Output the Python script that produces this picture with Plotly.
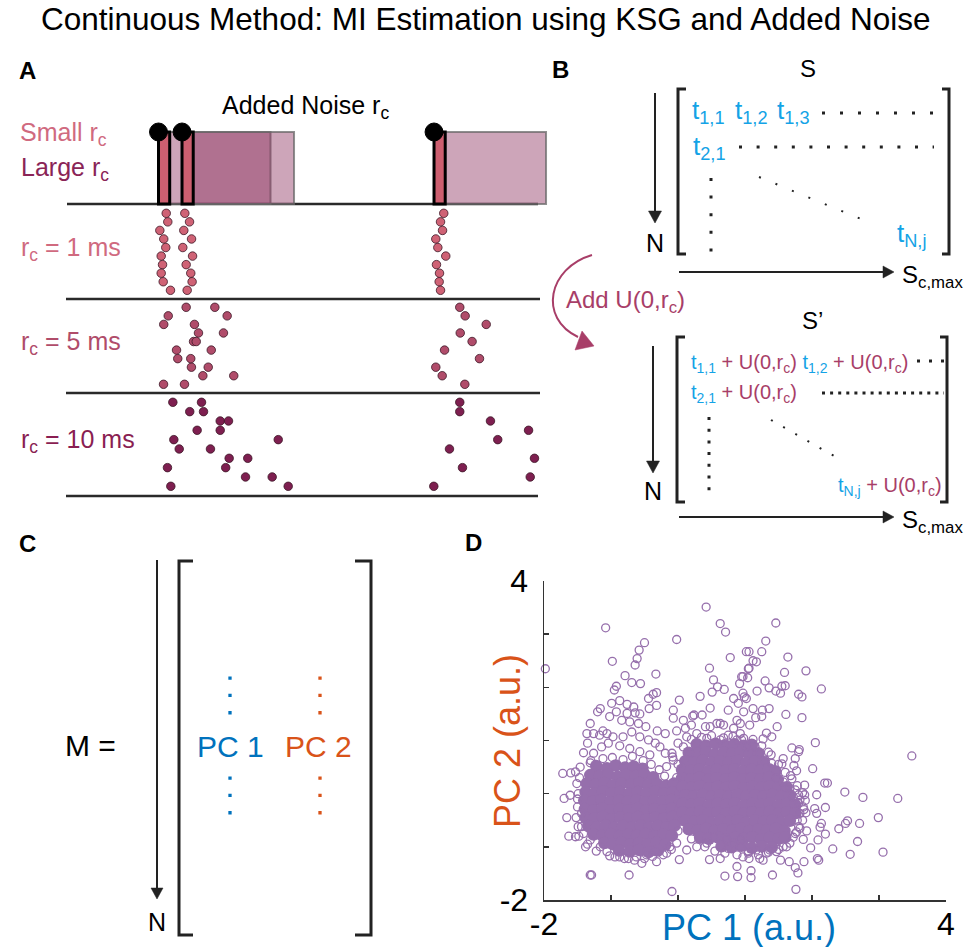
import plotly.graph_objects as go

W, H = 972, 947
FONT = "Liberation Sans, Arial, sans-serif"

# ------------------------------------------------------------------ data
title_text = "Continuous Method: MI Estimation using KSG and Added Noise"

spike_times_ms = [0.0, 2.1, 24.6]
noise_window_ms = 10.0
row_labels = ["r<sub>c</sub> = 1 ms", "r<sub>c</sub> = 5 ms", "r<sub>c</sub> = 10 ms"]
trials = [1, 2, 3, 4, 5, 6, 7, 8, 9, 10]

rc1_spike1 = [0.69, 0.83, 0.12, 0.47, 0.65, 0.24, 0.36, 0.24, 0.42, 1.07]
rc1_spike2 = [2.35, 2.77, 2.26, 2.95, 2.17, 3.04, 2.47, 2.88, 3.00, 2.56]
rc1_spike3 = [25.47, 25.18, 25.36, 24.76, 24.94, 25.65, 24.82, 25.09, 25.06, 25.18]

rc5_spike1 = [2.47, 0.87, 0.47, 3.57, 3.13, 1.61, 1.72, 2.94, 3.96, 0.45]
rc5_spike2 = [5.03, 6.13, 3.21, 5.80, 3.37, 4.71, 2.88, 4.44, 6.72, 2.32]
rc5_spike3 = [26.90, 27.38, 29.26, 26.94, 28.00, 25.54, 28.66, 24.76, 25.33, 27.35]

rc10_spike1 = [1.28, 2.79, 5.51, 3.45, 1.37, 1.85, 6.31, 0.80, 7.77, 1.10]
rc10_spike2 = [3.84, 4.02, 6.25, 5.51, 10.69, 4.64, 7.97, 6.00, 10.15, 11.58]
rc10_spike3 = [26.90, 26.90, 29.64, 33.04, 30.29, 25.98, 33.57, 27.14, 33.19, 24.58]

pc_ticks = [-2, -1, 0, 1, 2, 3, 4]
pc_label_ticks = [-2, 4]
pc_ticktext = ["-2", "4"]

pc_dense = [
    (-1.22, 0.52), (-1.06, 0.48), (-0.93, 0.53), (-0.79, 0.49), (-0.66, 0.51), (-0.53, 0.47),
    (-1.31, 0.35), (-1.17, 0.33), (-1.04, 0.36), (-0.90, 0.32), (-0.77, 0.35), (-0.63, 0.33), (-0.50, 0.36), (-0.37, 0.31),
    (-1.36, 0.19), (-1.23, 0.17), (-1.10, 0.20), (-0.97, 0.16), (-0.84, 0.19), (-0.70, 0.17), (-0.57, 0.20), (-0.44, 0.16),
    (-0.31, 0.18), (-0.18, 0.15), (-0.06, 0.19),
    (-1.38, 0.03), (-1.25, 0.00), (-1.12, 0.04), (-0.99, 0.01), (-0.86, 0.03), (-0.73, 0.00), (-0.60, 0.03), (-0.47, 0.01),
    (-0.34, 0.04), (-0.21, 0.00), (-0.08, 0.02), (0.04, 0.01),
    (-1.40, -0.13), (-1.27, -0.15), (-1.14, -0.12), (-1.01, -0.16), (-0.88, -0.13), (-0.75, -0.15), (-0.62, -0.12),
    (-0.49, -0.16), (-0.36, -0.13), (-0.23, -0.15), (-0.10, -0.12), (0.03, -0.15),
    (-1.39, -0.29), (-1.26, -0.31), (-1.13, -0.28), (-1.00, -0.32), (-0.87, -0.29), (-0.74, -0.31), (-0.61, -0.28),
    (-0.48, -0.32), (-0.35, -0.29), (-0.22, -0.31), (-0.09, -0.28), (0.04, -0.30),
    (-1.38, -0.45), (-1.25, -0.47), (-1.12, -0.44), (-0.99, -0.48), (-0.86, -0.45), (-0.73, -0.47), (-0.60, -0.44),
    (-0.47, -0.48), (-0.34, -0.45), (-0.21, -0.47), (-0.08, -0.44), (0.03, -0.47),
    (-1.34, -0.61), (-1.21, -0.63), (-1.08, -0.60), (-0.95, -0.64), (-0.82, -0.61), (-0.69, -0.63), (-0.56, -0.60),
    (-0.43, -0.64), (-0.30, -0.61), (-0.17, -0.63), (-0.05, -0.60),
    (-1.26, -0.77), (-1.13, -0.79), (-1.00, -0.76), (-0.87, -0.80), (-0.74, -0.77), (-0.61, -0.79), (-0.48, -0.76),
    (-0.35, -0.80), (-0.22, -0.77), (-0.09, -0.79),
    (-1.10, -0.93), (-0.97, -0.95), (-0.84, -0.92), (-0.71, -0.96), (-0.58, -0.93), (-0.45, -0.95), (-0.32, -0.92), (-0.19, -0.96),
    (-0.88, -1.07), (-0.72, -1.09), (-0.58, -1.06), (-0.44, -1.10), (-0.30, -1.07),
    (0.28, 0.93), (0.42, 0.90), (0.56, 0.94), (0.70, 0.91), (0.84, 0.93), (0.98, 0.90), (1.10, 0.92),
    (0.16, 0.77), (0.29, 0.75), (0.42, 0.78), (0.55, 0.74), (0.68, 0.77), (0.81, 0.75), (0.94, 0.78), (1.07, 0.74), (1.20, 0.76),
    (0.11, 0.61), (0.24, 0.59), (0.37, 0.62), (0.50, 0.58), (0.63, 0.61), (0.76, 0.59), (0.89, 0.62), (1.02, 0.58),
    (1.15, 0.61), (1.28, 0.59),
    (0.06, 0.45), (0.19, 0.43), (0.32, 0.46), (0.45, 0.42), (0.58, 0.45), (0.71, 0.43), (0.84, 0.46), (0.97, 0.42),
    (1.10, 0.45), (1.23, 0.43), (1.36, 0.46), (1.45, 0.42),
    (0.06, 0.29), (0.19, 0.27), (0.32, 0.30), (0.45, 0.26), (0.58, 0.29), (0.71, 0.27), (0.84, 0.30), (0.97, 0.26),
    (1.10, 0.29), (1.23, 0.27), (1.36, 0.30), (1.49, 0.26),
    (0.07, 0.13), (0.20, 0.11), (0.33, 0.14), (0.46, 0.10), (0.59, 0.13), (0.72, 0.11), (0.85, 0.14), (0.98, 0.10),
    (1.11, 0.13), (1.24, 0.11), (1.37, 0.14), (1.50, 0.10), (1.62, 0.12),
    (0.11, -0.03), (0.24, -0.05), (0.37, -0.02), (0.50, -0.06), (0.63, -0.03), (0.76, -0.05), (0.89, -0.02), (1.02, -0.06),
    (1.15, -0.03), (1.28, -0.05), (1.41, -0.02), (1.54, -0.06), (1.67, -0.03),
    (0.07, -0.19), (0.20, -0.21), (0.33, -0.18), (0.46, -0.22), (0.59, -0.19), (0.72, -0.21), (0.85, -0.18), (0.98, -0.22),
    (1.11, -0.19), (1.24, -0.21), (1.37, -0.18), (1.50, -0.22), (1.63, -0.19), (1.75, -0.21),
    (0.07, -0.35), (0.20, -0.37), (0.33, -0.34), (0.46, -0.38), (0.59, -0.35), (0.72, -0.37), (0.85, -0.34), (0.98, -0.38),
    (1.11, -0.35), (1.24, -0.37), (1.37, -0.34), (1.50, -0.38), (1.63, -0.35), (1.75, -0.37),
    (0.11, -0.51), (0.24, -0.53), (0.37, -0.50), (0.50, -0.54), (0.63, -0.51), (0.76, -0.53), (0.89, -0.50), (1.02, -0.54),
    (1.15, -0.51), (1.28, -0.53), (1.41, -0.50), (1.54, -0.54), (1.67, -0.51),
    (0.16, -0.67), (0.29, -0.69), (0.42, -0.66), (0.55, -0.70), (0.68, -0.67), (0.81, -0.69), (0.94, -0.66), (1.07, -0.70),
    (1.20, -0.67), (1.33, -0.69), (1.46, -0.66), (1.59, -0.70),
    (0.33, -0.83), (0.46, -0.85), (0.59, -0.82), (0.72, -0.86), (0.85, -0.83), (0.98, -0.85), (1.11, -0.82), (1.24, -0.86),
    (1.37, -0.83), (1.50, -0.85), (1.60, -0.82),
    (0.65, -0.99), (0.80, -1.01), (0.95, -0.98), (1.10, -1.02), (1.25, -0.99), (1.40, -1.01),
]

pc_sparse = [
    (0.42, 3.51), (0.63, 3.20), (0.71, 3.04), (-1.08, 3.12), (-0.02, 2.90), (-0.50, 2.84), (-0.58, 2.70),
    (-0.61, 2.54), (-0.64, 2.42), (-0.98, 2.49), (-1.98, 2.35), (0.78, 2.56), (0.47, 2.36), (0.53, 2.14),
    (0.51, 1.91), (0.59, 2.01), (0.69, 1.96), (0.33, 1.83), (-0.33, 2.25), (-0.79, 2.22), (-0.69, 2.09),
    (-0.56, 2.07), (-0.92, 2.02), (-0.95, 1.95), (-0.32, 1.90), (-0.37, 1.87), (-0.44, 1.79), (-0.32, 1.66),
    (-0.43, 1.60), (0.02, 1.76), (-0.07, 1.57), (-0.07, 1.42), (0.48, 1.61), (0.24, 1.48), (0.36, 1.48),
    (0.75, 1.57), (-1.16, 1.60), (-1.20, 1.54), (-1.31, 1.32), (-1.36, 1.13), (-1.26, 1.13), (-1.17, 1.10),
    (-1.12, 1.18), (-1.41, 0.77), (-1.35, 0.95), (-1.72, 0.38), (-1.60, 0.39), (-1.53, 0.41), (-1.70, -0.09),
    (-1.61, -0.03), (-1.66, -0.45), (-1.63, -0.80), (-1.53, -0.81), (-1.49, -0.62), (-1.38, -1.00),
    (-1.31, -1.53), (-1.29, -1.53), (-0.73, -1.53), (-0.09, -1.84), (-0.54, -1.31), (-0.32, -1.28),
    (-0.87, -1.19), (0.02, -1.24), (0.47, -1.24), (0.63, -1.22), (0.70, -1.55), (0.89, -1.56), (0.88, -1.37),
    (0.75, -1.03), (0.93, -1.00), (-0.19, 1.13), (-0.31, 1.18), (-0.02, 1.18), (0.11, 1.23), (0.22, 1.46),
    (0.41, 1.26), (0.63, 1.32), (0.88, 1.38), (1.02, 2.67), (1.05, 2.35), (0.97, 2.20), (0.92, 2.07), (0.99, 1.82),
    (1.46, 3.21), (1.31, 2.87), (1.06, 2.67), (1.25, 2.67), (1.12, 2.50), (1.17, 2.48), (1.64, 2.57), (1.06, 2.36),
    (1.59, 2.28), (1.91, 2.31), (1.04, 2.18), (0.95, 2.20), (1.30, 2.12), (2.14, 1.97), (1.18, 1.93), (1.36, 1.99),
    (1.46, 1.93), (1.53, 1.89), (1.55, 2.02), (1.60, 2.03), (1.80, 1.87), (1.85, 1.82), (0.97, 1.89), (1.02, 1.79),
    (1.12, 1.60), (1.26, 1.57), (1.36, 1.60), (1.16, 1.43), (1.25, 1.45), (1.61, 1.49), (1.85, 1.43), (1.07, 1.29),
    (1.48, 1.26), (1.32, 1.14), (1.40, 1.07), (1.27, 1.03), (2.05, 0.96), (1.70, 0.86), (1.81, 0.83), (1.80, 0.79),
    (1.39, 0.73), (1.57, 0.66), (1.75, 0.66), (1.55, 0.56), (1.73, 0.53), (1.47, 0.42), (1.77, 0.43), (2.01, 0.47),
    (1.68, 0.34), (3.49, 0.71), (2.19, 0.20), (2.23, 0.20), (1.89, 0.16), (2.07, -0.02), (2.49, 0.03), (2.76, -0.07),
    (3.28, -0.09), (1.80, -0.02), (1.90, -0.13), (2.04, -0.28), (2.20, -0.26), (2.07, -0.37), (2.14, -0.56),
    (2.12, -0.63), (2.40, -0.66), (2.53, -0.51), (2.50, -0.56), (2.71, -0.56), (2.99, -0.45), (2.20, -0.76),
    (2.09, -0.87), (1.98, -1.02), (2.31, -1.04), (2.68, -0.90), (2.57, -1.14), (3.06, -1.10), (2.10, -1.25),
    (2.08, -1.22), (1.88, -1.28), (1.66, -1.28), (1.53, -1.25), (1.75, -1.39), (1.79, -1.49), (1.41, -1.53),
    (1.76, -1.80), (1.09, -1.45), (1.09, -1.58), (1.06, -1.22), (1.27, -1.25), (1.22, -1.22), (1.37, -1.06),
    (1.62, -1.00), (1.87, -0.86), (1.82, -0.65), (1.92, -0.70), (1.77, -0.72), (1.91, -0.36), (1.87, -0.25),
    (1.89, -0.02), (1.75, 0.07), (1.60, 0.10), (1.82, -0.12),
    (-0.99, 1.70), (-0.87, 1.75), (-0.76, 1.68), (-0.66, 1.63), (-0.76, 1.51), (-0.64, 1.52), (-0.57, 1.50),
    (-0.92, 1.54), (-1.02, 1.45), (-0.84, 1.38), (-0.72, 1.35), (-0.59, 1.32), (-0.48, 1.26), (-1.06, 1.13),
    (-0.97, 1.07), (-0.82, 1.07), (-0.69, 1.16), (-0.57, 1.07), (-0.44, 1.01), (-0.34, 0.95), (-0.27, 0.88),
    (-0.19, 0.76), (-0.08, 0.69), (-1.14, 0.88), (-1.04, 0.95), (-0.87, 0.90), (-0.72, 0.85), (-0.57, 0.79),
    (-0.42, 0.73), (-1.26, 0.76), (-1.31, 0.58), (-1.46, 0.50), (-1.51, 0.19), (-1.49, 0.00), (-1.50, -0.25),
    (-1.44, -0.37), (-1.44, -0.62), (-1.41, -0.75), (-1.31, -0.87), (-1.16, -1.00), (-1.06, -1.09), (-0.94, -1.19),
    (-0.74, -1.22), (-0.62, -1.19), (-0.47, -1.15), (-0.34, -1.09), (-0.17, -1.12), (-0.12, -1.00), (-0.02, -0.93),
    (0.13, -1.06), (0.28, -1.00), (0.43, -0.93), (0.53, -0.81), (0.73, -0.87), (0.83, -0.93), (0.93, -0.87),
    (0.08, 1.38), (0.20, 1.29), (0.28, 1.13), (0.48, 1.26), (0.58, 1.32), (0.68, 1.29), (0.83, 1.23), (0.93, 1.13),
    (0.93, 1.32), (0.98, 1.54), (0.90, 1.70), (0.83, 1.79), (0.13, 1.07), (0.00, 0.95), (0.08, 0.88), (-0.09, 0.76),
    (-0.17, 0.51), (-0.07, 0.63), (0.18, 0.76), (0.28, 0.95), (0.43, 1.04), (0.63, 1.01), (0.75, 1.10), (0.88, 1.01),
    (0.95, 1.01), (1.02, 0.88), (1.15, 0.88), (1.22, 0.76), (1.30, 0.63), (1.40, 0.57), (1.47, 0.29), (1.57, 0.22),
    (1.67, 0.10), (1.72, -0.06), (1.80, -0.18), (1.82, -0.37), (1.78, -0.50), (1.75, -0.75), (1.67, -0.93),
    (1.57, -1.00), (1.47, -1.09), (1.32, -1.12), (1.17, -1.06), (1.05, -1.09), (0.97, -1.19),
    (-1.30, 0.62), (-1.12, 0.66), (-0.98, 0.68), (-0.82, 0.64), (-0.68, 0.70), (-0.52, 0.62), (-0.40, 0.55),
    (-0.28, 0.45), (-0.20, 0.33), (-1.47, 0.30), (-1.50, -0.10), (-1.52, -0.45), (-1.48, -0.80), (-1.35, -0.95),
    (-1.22, -1.08), (-1.02, -1.17), (-0.80, -1.22), (-0.65, -1.25), (-0.50, -1.22), (-0.38, -1.18), (-0.22, -1.15),
    (-0.10, -1.05), (0.20, 1.02), (0.35, 1.06), (0.50, 1.09), (0.68, 1.05), (0.82, 1.08), (0.98, 1.04), (1.12, 1.02),
    (1.25, 0.90), (1.35, 0.78), (1.50, 0.55), (1.60, 0.40), (1.70, 0.28), (1.78, 0.15), (1.86, 0.02), (1.88, -0.30),
    (1.86, -0.50), (1.80, -0.62), (1.72, -0.82), (0.20, -0.85), (0.40, -1.00), (0.55, -1.08), (0.70, -1.12),
    (0.88, -1.15), (1.05, -1.12), (1.20, -1.15), (1.35, -1.10), (1.50, -1.05), (0.00, -0.70), (-0.02, 0.30),
    (0.00, 0.55),
]

# ------------------------------------------------------------------ layout helpers
shapes = []
annotations = []

ROW_PX = [(213.3, 290.3), (307.3, 384.3), (402.3, 486.3)]
MS_ORIGIN_PX, PX_PER_MS = 158.5, 11.2
D_BOX = (544, 946, 581, 900)


def ann(x, y, text, size, color="#000", xanchor="center", yanchor="middle", angle=0):
    annotations.append(dict(x=x, y=y, xref="x", yref="y", text=text, showarrow=False,
                            font=dict(family=FONT, size=size, color=color),
                            xanchor=xanchor, yanchor=yanchor, textangle=angle, borderpad=0))


def seg(x0, y0, x1, y1, w=2.0, color="#222", dash=None, xref="x", yref="y"):
    ln = dict(color=color, width=w)
    if dash:
        ln["dash"] = dash
    shapes.append(dict(type="line", x0=x0, y0=y0, x1=x1, y1=y1, xref=xref, yref=yref, line=ln))


def tri(points, color="#222"):
    p = "M " + " L ".join(f"{a} {b}" for a, b in points) + " Z"
    shapes.append(dict(type="path", path=p, xref="x", yref="y", fillcolor=color,
                       line=dict(color=color, width=0.5)))


def arrow_down(x, y0, ytip, head=12, half=6, w=2):
    seg(x, y0, x, ytip - head + 1, w)
    tri([(x - half, ytip - head), (x + half, ytip - head), (x, ytip)])


def arrow_right(y, x0, xtip, head=11, half=6, w=2):
    seg(x0, y, xtip - head + 1, y, w)
    tri([(xtip - head, y - half), (xtip - head, y + half), (xtip, y)])


def bracket(x, y0, y1, serif, w=3):
    p = f"M {x + serif} {y0} L {x} {y0} L {x} {y1} L {x + serif} {y1}"
    shapes.append(dict(type="path", path=p, xref="x", yref="y", line=dict(color="#222", width=w)))


# ------------------------------------------------------------------ title / panel letters
ann(486, 19, title_text, 31.5)
ann(27, 70, "<b>A</b>", 24)
ann(560, 69, "<b>B</b>", 24)
ann(27, 543, "<b>C</b>", 24)
ann(473, 542, "<b>D</b>", 24)

# ------------------------------------------------------------------ panel A
for y, x0, x1 in [(204, 67, 538), (299, 66, 540), (393, 66, 540), (496, 66, 538)]:
    seg(x0, y, x1, y, w=2.5, color="#2a2a2a")

for s in spike_times_ms:
    shapes.append(dict(type="rect", xref="x2", yref="y", x0=s, x1=s + noise_window_ms, y0=132, y1=204,
                       fillcolor="rgba(136,41,88,0.42)", line=dict(color="rgba(105,105,105,0.75)", width=2)))
for s in spike_times_ms:
    shapes.append(dict(type="rect", xref="x2", yref="y", x0=s, x1=s + 1.0, y0=132, y1=204,
                       fillcolor="#CD5F70", line=dict(color="#000", width=3)))
for s in spike_times_ms:
    shapes.append(dict(type="circle", xref="x2", yref="y", x0=s - 0.8, x1=s + 0.8, y0=123, y1=141,
                       fillcolor="#000", line=dict(color="#000", width=1)))

ann(221, 107, "Added Noise r<sub>c</sub>", 25, xanchor="left")
ann(19, 134, "Small r<sub>c</sub>", 25, color="#D06A7F", xanchor="left")
ann(20, 169, "Large r<sub>c</sub>", 25, color="#8A2456", xanchor="left")
row_colors = ["#CF6275", "#B04C6A", "#7E1F50"]
row_text_colors = ["#D06A7F", "#B04C6A", "#8A1E52"]
row_text_y = [249, 343, 441]
for lbl, c, y in zip(row_labels, row_text_colors, row_text_y):
    ann(20, y, lbl, 25, color=c, xanchor="left")

# ------------------------------------------------------------------ panel B (top)
ann(808, 68, "S", 24)
arrow_down(655, 93, 223, head=12, half=6.5)
ann(655, 243, "N", 25)
bracket(678, 89, 254, 8)
bracket(949, 89, 254, -7)
arrow_right(272, 679, 894, head=11, half=6)
ann(901, 276, "S<sub>c,max</sub>", 24, xanchor="left")

BLUE = "#14A3E6"
MAG = "#A83E68"
ann(691, 111, "t<sub>1,1</sub>", 26, color=BLUE, xanchor="left")
ann(734, 111, "t<sub>1,2</sub>", 26, color=BLUE, xanchor="left")
ann(776, 111, "t<sub>1,3</sub>", 26, color=BLUE, xanchor="left")
ann(692, 147, "t<sub>2,1</sub>", 26, color=BLUE, xanchor="left")
ann(896, 234, "t<sub>N,j</sub>", 26, color=BLUE, xanchor="left")
seg(822, 113, 933, 113, w=3, dash="3px,15px")
seg(739, 147, 934, 147, w=3, dash="3px,14.6px")
seg(711, 178, 711, 253, w=3, dash="3px,14.6px")
seg(759, 177, 861, 219, w=2, dash="2px,15.8px")

# ------------------------------------------------------------------ panel B (bottom)
shapes.append(dict(type="path", path="M 592 255 C 548 268, 538 318, 578 337", xref="x", yref="y",
                   line=dict(color=MAG, width=2)))
tri([(582, 331), (575, 350), (594, 346)], color=MAG)
ann(565, 301, "Add U(0,r<sub>c</sub>)", 24, color=MAG, xanchor="left")

ann(812, 320, "S\u2019", 24)
arrow_down(653, 346, 473, head=12, half=6.5)
ann(653, 491, "N", 25)
bracket(677, 337, 502, 8)
bracket(947, 337, 502, -7)
arrow_right(517, 679, 894, head=11, half=6)
ann(901, 521, "S<sub>c,max</sub>", 24, xanchor="left")


def tu(t_sub):
    return (f'<span style="color:{BLUE}">t<sub>{t_sub}</sub></span>'
            f'<span style="color:{MAG}"> + U(0,r<sub>c</sub>)</span>')


ann(690, 363, tu("1,1") + " " + tu("1,2"), 20, xanchor="left")
ann(690, 393, tu("2,1"), 20, xanchor="left")
ann(837, 486, tu("N,j"), 20, xanchor="left")
seg(917, 361, 946, 361, w=3, dash="3px,9px")
seg(822, 393, 944, 393, w=3, dash="3px,5.1px")
seg(709, 417, 709, 492, w=3, dash="3px,8.7px")
seg(771, 420, 834, 456, w=2, dash="2px,12px")

# ------------------------------------------------------------------ panel C
ann(90, 745, "M =", 30)
arrow_down(157, 560, 899, head=11, half=6)
ann(157, 922, "N", 25)
bracket(179, 561, 935, 14)
bracket(371, 561, 935, -16)
PCB = "#0072BD"
PCO = "#D95319"
for x, c in [(230, PCB), (320, PCO)]:
    seg(x, 676.5, x, 716, w=3.3, color=c, dash="3.3px,14px")
    seg(x, 776.5, x, 816, w=3.3, color=c, dash="3.3px,14px")
ann(230, 746, "PC 1", 30, color=PCB)
ann(318, 746, "PC 2", 30, color=PCO)

# ------------------------------------------------------------------ panel D labels
ann(749, 927, "PC 1 (a.u.)", 36, color=PCB)
ann(507, 741, "PC 2 (a.u.)", 36, color=PCO, angle=-90)

# ------------------------------------------------------------------ traces
fig = go.Figure()
fig.add_trace(go.Scatter(x=[0], y=[0], mode="markers", marker=dict(size=1, color="rgba(0,0,0,0)"),
                         xaxis="x", yaxis="y", hoverinfo="skip", showlegend=False))

row_data = [(rc1_spike1, rc1_spike2, rc1_spike3),
            (rc5_spike1, rc5_spike2, rc5_spike3),
            (rc10_spike1, rc10_spike2, rc10_spike3)]
for k, (sp1, sp2, sp3) in enumerate(row_data):
    fig.add_trace(go.Scatter(
        x=sp1 + sp2 + sp3, y=trials * 3, mode="markers", xaxis="x2", yaxis=f"y{k + 2}",
        marker=dict(size=8.5, color=row_colors[k], line=dict(color="#3b1626", width=0.8)),
        cliponaxis=False, showlegend=False, hoverinfo="skip"))

PURPLE = "rgb(150,111,172)"
fig.add_trace(go.Scatter(
    x=[p[0] for p in pc_dense], y=[p[1] for p in pc_dense], mode="markers", xaxis="x3", yaxis="y5",
    marker=dict(symbol="circle", size=12.5, color=PURPLE, line=dict(width=0)),
    cliponaxis=False, showlegend=False, hoverinfo="skip"))
fig.add_trace(go.Scatter(
    x=[p[0] for p in pc_sparse], y=[p[1] for p in pc_sparse], mode="markers", xaxis="x3", yaxis="y5",
    marker=dict(symbol="circle-open", size=8, color=PURPLE, line=dict(width=1.3, color=PURPLE)),
    cliponaxis=False, showlegend=False, hoverinfo="skip"))

hidden = dict(visible=False, showgrid=False, zeroline=False, fixedrange=True, automargin=False)
axD = dict(range=[-2, 4], showline=True, linecolor="#333", linewidth=1.5, ticks="inside", ticklen=5, tickwidth=1.5,
           tickcolor="#333", tickmode="array", tickvals=pc_label_ticks, ticktext=pc_ticktext,
           minor=dict(tickmode="array", tickvals=pc_ticks, ticks="inside", ticklen=5, tickwidth=1.5,
                      tickcolor="#333", showgrid=False),
           showgrid=False, zeroline=False,
           tickfont=dict(family=FONT, size=32, color="#000"), fixedrange=True, automargin=False)
layout = dict(
    width=W, height=H, margin=dict(l=0, r=0, t=0, b=0, pad=0, autoexpand=False), autosize=False,
    paper_bgcolor="white", plot_bgcolor="rgba(0,0,0,0)", showlegend=False,
    xaxis=dict(range=[0, W], domain=[0, 1], anchor="y", **hidden),
    yaxis=dict(range=[H, 0], domain=[0, 1], anchor="x", **hidden),
    xaxis2=dict(range=[-MS_ORIGIN_PX / PX_PER_MS, (W - MS_ORIGIN_PX) / PX_PER_MS], domain=[0, 1],
                anchor="y2", **hidden),
    xaxis3=dict(domain=[D_BOX[0] / W, D_BOX[1] / W], anchor="y5", ticklabelstandoff=-5, **axD),
    yaxis5=dict(domain=[1 - D_BOX[3] / H, 1 - D_BOX[2] / H], anchor="x3", ticklabelstandoff=8, **axD),
    shapes=shapes, annotations=annotations,
)
for k, (p1, p10) in enumerate(ROW_PX):
    layout[f"yaxis{k + 2}"] = dict(range=[10, 1], domain=[1 - p10 / H, 1 - p1 / H], anchor="x2", **hidden)

fig.update_layout(**layout)

fig.write_html("out.html", include_plotlyjs=True, config={"displayModeBar": False, "staticPlot": True},
               post_script="document.body.style.margin='0px';document.body.style.overflow='hidden';")
